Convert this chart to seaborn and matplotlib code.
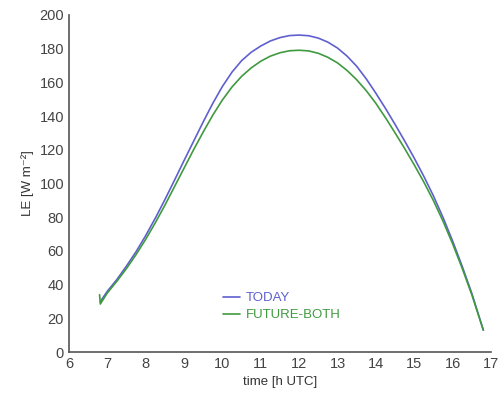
import pandas as pd
import matplotlib
matplotlib.use("Agg")
import matplotlib.pyplot as plt
import seaborn as sns

# latent heat flux
time_today = [6.82, 7.0, 7.25, 7.5, 7.75, 8.0, 8.25, 8.5, 8.75, 9.0, 9.25, 9.5, 9.75,
              10.0, 10.25, 10.5, 10.75, 11.0, 11.25, 11.5, 11.75, 12.0, 12.25, 12.5,
              12.75, 13.0, 13.25, 13.5, 13.75, 14.0, 14.25, 14.5, 14.75, 15.0, 15.25,
              15.5, 15.75, 16.0, 16.25, 16.5, 16.8]
le_today = [30, 36, 43, 51, 59.5, 69, 79.3, 90.3, 101.8, 113.5, 125, 136.5, 147.5,
            157.5, 166, 172.8, 177.8, 181.5, 184.5, 186.5, 187.7, 188, 187.6, 186.2,
            183.8, 180.3, 175.5, 169.5, 162, 153.5, 144.5, 135, 125.2, 115, 104.2,
            92.6, 79.8, 65.8, 50.8, 34.8, 13]

time_future = [6.80, 6.82, 7.0, 7.25, 7.5, 7.75, 8.0, 8.25, 8.5, 8.75, 9.0, 9.25, 9.5,
               9.75, 10.0, 10.25, 10.5, 10.75, 11.0, 11.25, 11.5, 11.75, 12.0, 12.25,
               12.5, 12.75, 13.0, 13.25, 13.5, 13.75, 14.0, 14.25, 14.5, 14.75, 15.0,
               15.25, 15.5, 15.75, 16.0, 16.25, 16.5, 16.8]
le_future = [34, 28.5, 35, 42, 49.5, 57.8, 66.8, 76.6, 87, 98, 109, 120, 130.5,
             140.5, 149.5, 157.2, 163.5, 168.5, 172.5, 175.5, 177.5, 178.7, 179, 178.6,
             177.2, 174.8, 171.5, 167, 161.5, 155, 147.5, 139, 130, 120.7, 111,
             100.8, 89.8, 77.6, 64.2, 49.6, 34, 13]

labels = ["TODAY", "FUTURE-BOTH"]
colors = ["#5f5fcf", "#3f9a3f"]

df = pd.concat([
    pd.DataFrame({"time": time_today, "LE": le_today, "run": labels[0]}),
    pd.DataFrame({"time": time_future, "LE": le_future, "run": labels[1]}),
])

sns.set_style("white")
plt.rcParams["font.family"] = ["Liberation Sans", "DejaVu Sans"]

fig = plt.figure(figsize=(4.99, 4.01), dpi=100)
ax = fig.add_axes([0.138, 0.122, 0.846, 0.841])

sns.lineplot(data=df, x="time", y="LE", hue="run", palette=colors,
             sort=False, estimator=None, lw=1.2, ax=ax)

ax.set_xlim(6, 17)
ax.set_ylim(0, 200)
ax.set_xticks(range(6, 18))
ax.set_yticks(range(0, 201, 20))
ax.set_xlabel("time [h UTC]", fontsize=9.5, color="#333333")
ax.set_ylabel("LE [W m\u207b\u00b2]", fontsize=9.5, color="#333333")
ax.tick_params(direction="in", length=4, width=1, colors="#555555",
               labelsize=10.5, labelcolor="#444444")
for s in ["top", "right"]:
    ax.spines[s].set_visible(False)
for s in ["left", "bottom"]:
    ax.spines[s].set_color("#555555")
    ax.spines[s].set_linewidth(1.2)

leg = ax.legend(loc="upper left", bbox_to_anchor=(0.35, 0.197), frameon=False,
                handlelength=1.3, handletextpad=0.4, labelspacing=0.35,
                fontsize=9.5, labelcolor="linecolor", borderpad=0)

fig.savefig("out.png", dpi=100)
